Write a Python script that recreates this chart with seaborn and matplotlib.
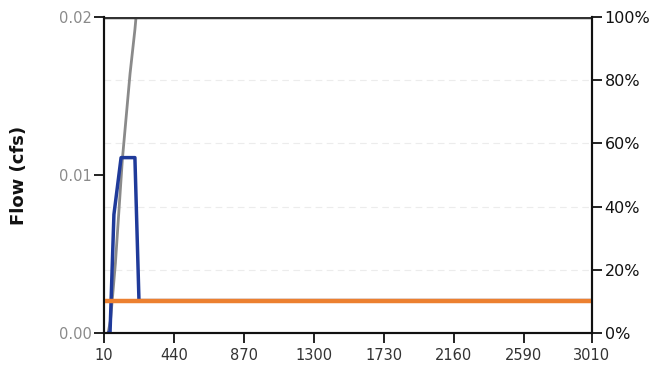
import matplotlib
matplotlib.use("Agg")
import matplotlib.pyplot as plt
import seaborn as sns
import pandas as pd

sns.set_theme(style="white")
plt.rcParams['font.family'] = ['DejaVu Sans']

# Data
flow_time = [35, 47, 71, 115, 200, 225, 3010]
flow_cfs = [0.0, 0.0, 0.0075, 0.0111, 0.0111, 0.00205, 0.00205]

base_time = [10, 3010]
base_cfs = [0.00205, 0.00205]

cum_time = [35, 50, 80, 123, 170, 200, 207, 3010]
cum_pct = [0, 4, 22, 55, 82, 96, 100, 100]

xticks = [10, 440, 870, 1300, 1730, 2160, 2590, 3010]
yticks_left = [0.00, 0.01, 0.02]
yticks_right = [0, 20, 40, 60, 80, 100]

flow_df = pd.DataFrame({"t": flow_time, "q": flow_cfs})
base_df = pd.DataFrame({"t": base_time, "q": base_cfs})
cum_df = pd.DataFrame({"t": cum_time, "p": cum_pct})

fig = plt.figure(figsize=(6.72, 3.81), dpi=100)
ax = fig.add_axes([104/672, 1-333/381, (592-104)/672, (333-17)/381])
ax2 = ax.twinx()

# faint gridlines
for p in [20, 40, 60, 80]:
    ax2.axhline(p, color="#ececec", lw=0.8, ls=(0, (6, 4)), zorder=0)

sns.lineplot(data=cum_df, x="t", y="p", ax=ax2, color="#8a8a8a", lw=2.0,
             estimator=None, sort=False, legend=False)
ax2.axhline(100, color="#333333", lw=2.5, zorder=3)

sns.lineplot(data=flow_df, x="t", y="q", ax=ax, color="#1f3a9a", lw=2.5,
             estimator=None, sort=False, legend=False)
sns.lineplot(data=base_df, x="t", y="q", ax=ax, color="#ec8030", lw=3.2,
             estimator=None, sort=False, legend=False)

ax.set_zorder(ax2.get_zorder() + 1)
ax.patch.set_visible(False)

ax.set_xlim(10, 3010)
ax.set_ylim(0, 0.02)
ax2.set_ylim(0, 100)
ax.set_xticks(xticks)
ax.set_xticklabels([str(v) for v in xticks])
ax.set_yticks(yticks_left)
ax.set_yticklabels([f"{v:.2f}" for v in yticks_left])
ax2.set_yticks(yticks_right)
ax2.set_yticklabels([f"{v}%" for v in yticks_right])

ax.set_xlabel("")
ax.set_ylabel("Flow (cfs)", fontsize=13, fontweight="bold", color="#111111", labelpad=22)
ax2.set_ylabel("")

for a in (ax, ax2):
    for s in a.spines.values():
        s.set_color("#111111")
        s.set_linewidth(1.5)
    a.spines["top"].set_visible(False)

ax.tick_params(axis="y", direction="out", length=7, width=1.3, color="#111111",
               labelsize=10.5, labelcolor="#8a8a8a", pad=2, left=True)
ax.tick_params(axis="x", direction="out", length=7, width=1.3, color="#111111",
               labelsize=10.5, labelcolor="#333333", pad=4, bottom=True)
ax2.tick_params(axis="y", direction="out", length=7, width=1.3, color="#111111",
                labelsize=11.5, labelcolor="#111111", pad=2, right=True)

fig.savefig("out.png", dpi=100)
